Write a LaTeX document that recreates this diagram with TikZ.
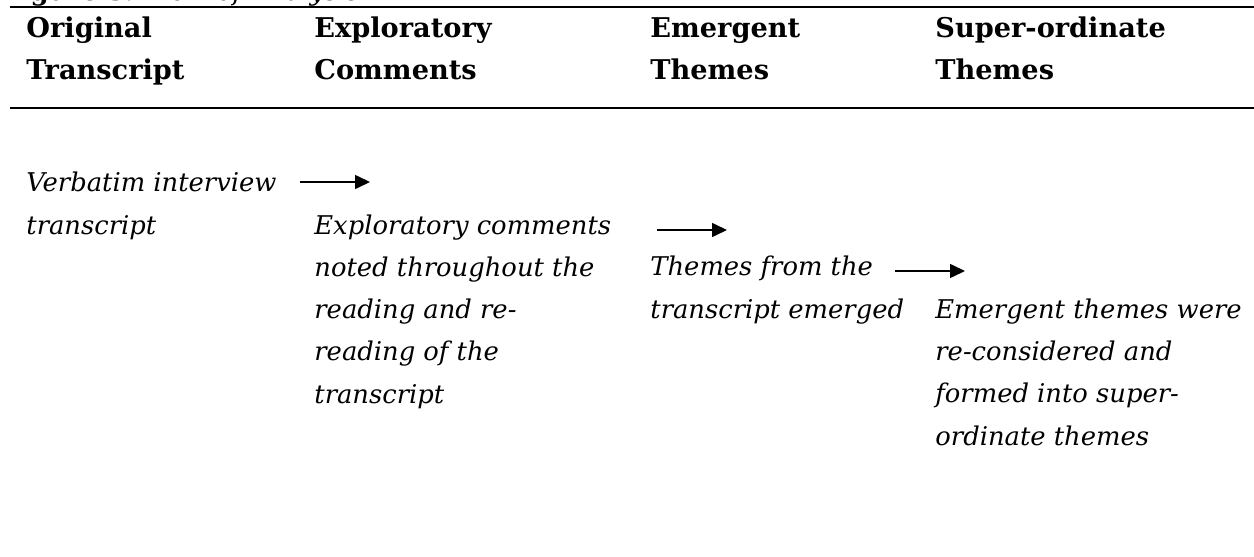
\documentclass[tikz,border=0pt]{standalone}
\usepackage{fontspec}
\setmainfont{DejaVu Serif}
\usetikzlibrary{arrows.meta}

\begin{document}
\begin{tikzpicture}[x=0.5pt, y=-0.5pt,
    head/.style = {anchor=base west, inner sep=0pt, font=\fontsize{13.6}{21}\selectfont\bfseries},
    body/.style = {anchor=base west, inner sep=0pt, align=left, font=\fontsize{12.9}{21.1}\selectfont\itshape},
    flow/.style = {-{Triangle[length=7.5pt,width=7pt]}, line width=0.8pt}]
\useasboundingbox (0,0) rectangle (1254,557);
% cut-off caption above the table
\begin{scope}
  \clip (0,0) rectangle (1254,6);
  \node[anchor=base west, inner sep=0pt, font=\fontsize{13}{15}\selectfont] (cap) at (2,1) {\textbf{Figure 3}. \textit{Flow of Analysis}};
\end{scope}
\draw[line width=1pt] (10,7) -- (1254,7);
\draw[line width=1.2pt] (10,108) -- (1254,108);
% column heads
\node[head] (orig)  at (26,37)  {Original};
\node[head] (origb) at (26,79)  {Transcript};
\node[head] (expl)  at (314,37) {Exploratory};
\node[head] (explb) at (314,79) {Comments};
\node[head] (emer)  at (650,37) {Emergent};
\node[head] (emerb) at (650,79) {Themes};
\node[head] (sup)   at (935,37) {Super-ordinate};
\node[head] (supb)  at (935,79) {Themes};
% steps (y = baseline of last line)
\node[body] (verb)   at (26,234)  {Verbatim interview\\transcript};
\node[body] (comm)   at (314,403) {Exploratory comments\\noted throughout the\\reading and re-\\reading of the\\transcript};
\node[body] (themes) at (650,318) {Themes from the\\transcript emerged};
\node[body] (formed) at (935,445) {Emergent themes were\\re-considered and\\formed into super-\\ordinate themes};
% arrows
\coordinate (a1s) at (300,182); \coordinate (a1e) at (370,182);
\coordinate (a2s) at (657,230); \coordinate (a2e) at (727,230);
\coordinate (a3s) at (895,271); \coordinate (a3e) at (965,271);
\draw[flow] (a1s) -- (a1e);
\draw[flow] (a2s) -- (a2e);
\draw[flow] (a3s) -- (a3e);
\end{tikzpicture}
\end{document}
